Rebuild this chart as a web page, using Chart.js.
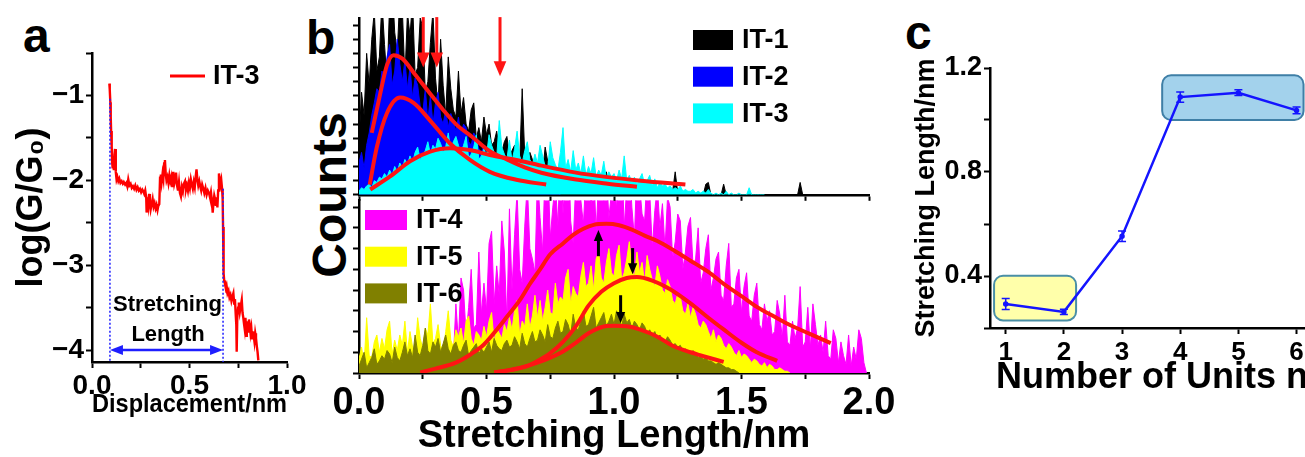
<!DOCTYPE html>
<html>
<head>
<meta charset="utf-8">
<title>Stretching length of IT-n junctions</title>
<script src="https://cdn.jsdelivr.net/npm/chart.js@4.4.1/dist/chart.umd.min.js"></script>
<style>
  html, body { margin: 0; padding: 0; background: #fff; }
  body { width: 1305px; height: 457px; overflow: hidden; position: relative; }
  canvas { position: absolute; }
  .tag { position: absolute; font-family: "Liberation Sans", Arial, sans-serif; font-weight: bold;
         color: #000; line-height: 1; white-space: nowrap; }
</style>
</head>
<body>
<div class="tag" style="left:23px;top:12px;font-size:48px">a</div>
<div class="tag" style="left:306px;top:14px;font-size:48px">b</div>
<div class="tag" style="left:905px;top:9px;font-size:48px">c</div>
<div class="tag" style="left:330px;top:195px;font-size:48px;transform:translate(-50%,-50%) rotate(-90deg)">Counts</div>

<canvas id="chartA" width="340" height="430" style="left:0;top:0"></canvas>
<canvas id="chartB2" width="600" height="267" style="left:300px;top:190px"></canvas>
<canvas id="chartB1" width="600" height="205" style="left:300px;top:0"></canvas>
<canvas id="chartC" width="440" height="457" style="left:890px;top:0"></canvas>

<script>
// ── Data ──────────────────────────────────────────────────────

// (a) single conductance trace of IT-3
const aDisp = [
  0.089,0.091,0.094,0.096,0.098,0.101,0.103,0.106,0.109,0.112,
  0.115,0.118,0.121,0.123,0.126,0.130,0.135,0.140,0.146,0.152,
  0.158,0.163,0.170,0.176,0.181,0.186,0.192,0.198,0.204,0.210,
  0.216,0.222,0.228,0.234,0.240,0.246,0.252,0.258,0.263,0.268,
  0.273,0.278,0.280,0.284,0.289,0.293,0.297,0.301,0.306,0.311,
  0.316,0.321,0.326,0.331,0.336,0.340,0.345,0.349,0.353,0.357,
  0.362,0.366,0.370,0.374,0.378,0.382,0.387,0.392,0.397,0.402,
  0.407,0.412,0.417,0.422,0.427,0.431,0.436,0.441,0.446,0.451,
  0.456,0.461,0.466,0.471,0.477,0.482,0.487,0.492,0.497,0.502,
  0.507,0.512,0.517,0.522,0.527,0.532,0.536,0.540,0.545,0.550,
  0.555,0.560,0.565,0.571,0.576,0.582,0.588,0.594,0.600,0.605,
  0.610,0.615,0.619,0.623,0.627,0.631,0.635,0.639,0.643,0.647,
  0.651,0.655,0.659,0.663,0.667,0.670,0.672,0.674,0.676,0.678,
  0.682,0.686,0.690,0.695,0.700,0.705,0.710,0.715,0.720,0.725,
  0.729,0.733,0.737,0.740,0.742,0.745,0.749,0.753,0.758,0.763,
  0.768,0.772,0.776,0.779,0.783,0.787,0.791,0.794,0.797,0.801,
  0.805,0.809,0.813,0.817,0.821,0.825,0.829,0.833,0.837,0.841,
  0.845,0.849,0.853
];
const aLogG = [
  -0.86,-0.93,-1.08,-1.25,-1.42,-1.60,-1.78,-1.86,-1.75,-1.88,
  -1.70,-1.63,-1.80,-1.90,-1.99,-1.96,-2.01,-1.98,-2.03,-2.01,
  -2.04,-2.02,-2.05,-2.03,-2.07,-1.99,-2.06,-2.04,-2.09,-2.07,
  -2.10,-2.06,-2.11,-2.08,-2.12,-2.10,-2.14,-2.11,-2.13,-2.16,
  -2.12,-2.20,-2.38,-2.22,-2.30,-2.16,-2.26,-2.34,-2.28,-2.22,
  -2.31,-2.27,-2.33,-2.29,-2.35,-2.30,-2.28,-1.97,-1.93,-2.02,
  -1.92,-1.98,-1.80,-1.76,-1.92,-2.00,-1.96,-2.03,-1.94,-2.01,
  -1.96,-2.08,-1.90,-2.04,-1.99,-1.91,-2.06,-2.12,-2.02,-2.15,
  -2.19,-2.08,-2.13,-2.04,-2.01,-2.11,-2.06,-2.12,-2.03,-2.09,
  -1.99,-2.05,-2.10,-2.02,-2.08,-1.95,-1.87,-1.98,-2.06,-2.01,
  -2.07,-2.12,-2.05,-2.10,-2.15,-2.09,-2.17,-2.12,-2.15,-2.20,
  -2.14,-2.24,-2.38,-2.26,-2.18,-2.22,-2.30,-2.20,-2.32,-2.12,
  -1.92,-1.98,-2.05,-2.00,-2.10,-2.22,-2.55,-2.85,-3.10,-3.18,
  -3.22,-3.27,-3.24,-3.33,-3.30,-3.38,-3.35,-3.42,-3.37,-3.33,
  -3.45,-3.40,-3.58,-3.70,-4.02,-3.62,-3.50,-3.44,-3.55,-3.48,
  -3.41,-3.56,-3.62,-3.68,-3.75,-3.62,-3.83,-3.72,-3.66,-3.78,
  -3.64,-3.70,-3.80,-3.74,-3.86,-3.78,-3.83,-3.90,-3.80,-3.86,
  -3.95,-4.02,-4.12
];

// (b) stretching-length histograms, 0.01 nm bins starting at 0 nm
const BIN = 0.01;
const it1Counts = [
  30,58,45,80,62,88,104,70,78,110,
  85,64,108,120,92,80,112,105,66,103,
  90,110,68,72,100,95,58,64,86,104,
  66,50,88,62,45,78,60,48,44,70,
  46,55,40,36,48,52,32,38,30,44,
  34,40,28,30,36,26,24,30,33,22,
  25,28,20,18,60,22,16,24,20,15,
  14,16,12,27,19,11,15,13,10,14,
  9,12,8,11,7,10,13,6,9,8,
  7,10,6,8,5,9,6,13,5,7,
  6,4,7,5,8,3,6,4,5,3,
  4,2,5,3,2,4,1,3,2,1,
  2,3,1,2,13,1,2,0,1,0,
  0,1,0,0,0,0,6,7,0,0,
  0,0,0,6,0,0,0,0,0,0,
  0,0,0,0,0,0,0,0,0,0,
  0,0,0,0,0,0,0,0,0,0,
  0,0,0,7,0,0,0,0,0,0,
  0,0
];
const it2Counts = [
  18,24,15,28,35,45,52,60,58,70,
  66,78,85,62,70,88,74,64,76,60,
  72,55,66,62,50,46,60,42,56,40,
  52,58,44,40,48,38,46,42,36,44,
  34,40,38,30,28,35,32,26,24,28,
  20,24,21,17,15,18,16,13,11,14,
  9,12,8,10,7,9,6,7,5,6,
  4,5,3,4,3,2,2,1,1,0
];
const it3Counts = [
  2,4,3,5,6,4,8,7,10,9,
  12,10,14,11,16,13,18,15,20,17,
  22,18,24,27,20,22,25,30,23,28,
  26,32,29,24,27,35,25,30,33,28,
  24,28,33,21,23,27,34,20,22,26,
  22,34,28,24,21,42,27,23,20,31,
  19,26,36,22,18,25,30,20,17,23,
  18,28,22,16,15,30,21,17,14,24,
  38,15,20,13,25,14,18,12,22,11,
  16,12,21,10,14,11,19,9,13,10,
  12,8,14,9,22,8,11,7,10,6,
  9,12,6,8,11,5,9,4,7,5,
  6,4,5,3,4,3,5,2,3,2,
  2,3,1,2,1,2,1,3,1,0,
  1,0,1,0,2,0,1,0,0,1,
  0,0,0,4,0,0,0,0,0,0
];
const it4Counts = [
  0,0,0,0,0,0,0,0,0,0,
  0,0,0,0,0,0,0,0,0,0,
  0,0,0,0,0,0,0,0,0,0,
  0,0,0,0,0,0,0,8,40,18,
  55,48,22,38,60,26,28,70,34,52,
  36,75,82,40,62,45,88,70,30,95,
  48,80,105,60,52,85,110,72,66,58,
  115,90,70,120,125,78,96,110,85,130,
  92,118,140,88,75,110,124,100,86,115,
  130,98,120,82,112,135,100,116,90,104,
  122,95,118,130,84,108,126,96,78,120,
  110,92,88,115,105,72,94,108,84,98,
  72,102,96,66,76,92,88,60,70,85,
  90,62,66,84,52,58,72,80,48,55,
  66,70,45,42,62,75,38,40,55,60,
  35,50,58,33,30,45,52,28,25,40,
  30,36,22,24,42,34,20,45,18,16,
  30,20,26,50,15,18,38,14,40,28,
  16,22,12,30,10,8,25,20,6,18,
  10,5,22,4,15,8,25,20,6,0
];
const it5Counts = [
  8,15,5,32,10,9,18,22,12,20,
  14,25,30,11,19,13,22,16,30,12,
  24,15,12,32,20,14,26,22,40,17,
  20,28,16,12,24,36,19,15,25,21,
  26,17,30,33,20,16,24,22,19,27,
  21,30,35,18,26,23,20,28,24,32,
  25,36,42,22,30,27,40,26,33,45,
  32,42,30,38,48,35,34,52,40,44,
  42,55,60,40,50,46,44,56,64,50,
  52,62,48,66,70,55,52,64,72,58,
  56,68,74,54,58,66,76,60,55,70,
  58,64,52,68,60,54,50,62,56,48,
  46,54,50,42,40,46,44,36,34,40,
  32,38,34,28,26,30,28,24,20,25,
  18,22,20,16,14,17,15,12,10,13,
  9,11,10,8,6,8,7,5,4,6,
  3,5,4,2,2,3,2,1,1,0
];
const it6Counts = [
  4,8,12,3,6,9,14,5,7,10,
  8,13,11,6,15,9,7,12,18,10,
  14,9,22,12,10,16,26,13,11,18,
  15,20,12,17,22,14,11,16,18,13,
  12,16,19,10,13,15,17,11,14,12,
  15,18,12,20,16,14,13,17,19,15,
  16,21,18,14,23,17,15,20,24,18,
  19,25,22,18,28,21,20,26,30,23,
  24,31,28,22,34,26,25,30,36,27,
  28,33,38,26,29,32,35,27,30,34,
  28,36,32,27,34,29,31,26,30,28,
  25,29,27,23,25,22,24,20,22,19,
  18,21,19,16,17,15,16,13,14,12,
  11,13,11,9,10,8,9,7,7,6,
  5,6,5,4,3,3,2,2,1,0
];

// fitted distributions
const fit1X = [0.05,0.08,0.11,0.135,0.17,0.22,0.28,0.33,0.38,0.45,0.51,0.58,0.65,0.715,0.845,0.975,1.09];
const fit1Y = [35,55,73.5,79,77,68,57,48,40,32,25,20,15.5,12.5,8.8,6.3,4.5];
const fit2X = [0.042,0.07,0.109,0.161,0.214,0.279,0.357,0.435,0.513,0.617,0.734];
const fit2Y = [5.8,27,46,55,52,42,29,19.7,13,8.5,5.8];
const fit3X = [0.044,0.122,0.2,0.279,0.357,0.435,0.513,0.617,0.715,0.845,0.975,1.105,1.28];
const fit3Y = [3,10.4,19,24.4,26.3,25.3,22.5,19.7,16.5,12.7,10,8,5.8];
const fit4X = [0.24,0.3,0.38,0.44,0.49,0.54,0.58,0.63,0.67,0.71,0.75,0.8,0.84,0.88,0.92,0.97,1.02,1.07,1.12,1.17,1.24,1.3,1.37,1.43,1.5,1.56,1.63,1.69,1.77,1.85];
const fit4Y = [0.3,2.5,6,11,16.5,25,32.5,42,51.5,60,68.7,75,80,83.5,85.7,86.3,85.5,83,79.5,76.4,70.5,65,58.5,51.6,44.5,38.3,32.5,27.8,22.5,17.3];
const fit5X = [0.53,0.6,0.65,0.7,0.75,0.8,0.85,0.9,0.95,1.0,1.05,1.09,1.15,1.22,1.3,1.37,1.43,1.5,1.56,1.64];
const fit5Y = [0.3,1.8,3.5,7,11.5,18,27,39,47,52,55,55.5,53.5,48.5,40.3,32,25.2,17.5,12,7];
const fit6X = [0.53,0.6,0.7,0.8,0.85,0.9,0.95,1.0,1.05,1.1,1.17,1.23,1.3,1.34,1.43];
const fit6Y = [0.3,2,6,12.5,17.5,23,26.5,27.3,27,25.2,21,15.8,12,10.2,6.4];

// (c) mean stretching length vs number of units
const cUnits  = [1, 2, 3, 4, 5, 6];
const cLength = [0.292, 0.262, 0.553, 1.088, 1.105, 1.037];
const cError  = [0.021, 0.010, 0.020, 0.020, 0.011, 0.013];

// ── Shared settings ───────────────────────────────────────────

const FONT = '"Liberation Sans", Arial, Helvetica, sans-serif';
Chart.defaults.font.family = FONT;
Chart.defaults.font.weight = 'bold';
Chart.defaults.color = '#000';
Chart.defaults.animation = false;
Chart.defaults.responsive = false;
Chart.defaults.events = [];
Chart.defaults.plugins.legend.display = false;
Chart.defaults.plugins.tooltip.enabled = false;

const hist = counts => counts.map((c, i) => ({ x: +(i * BIN).toFixed(2), y: c }));
const pts  = (xs, ys) => xs.map((x, i) => ({ x, y: ys[i] }));

const grid   = { drawOnChartArea: false, tickLength: 6, tickWidth: 2, tickColor: '#000' };
const border = { display: true, color: '#000', width: 2.5 };
const blank  = () => '';

function histSet(label, counts, color, order) {
  return { label, data: hist(counts), borderColor: color, backgroundColor: color, borderWidth: 1,
           fill: 'origin', pointRadius: 0, tension: 0, order, inLegend: true };
}
function fitSet(xs, ys) {
  return { data: pts(xs, ys), borderColor: '#ff1414', borderWidth: 4, pointRadius: 0, fill: false,
           cubicInterpolationMode: 'monotone', order: 0 };
}

function vArrow(ctx, x, y0, y1, color, lw, head) {
  const dir = Math.sign(y1 - y0);
  ctx.strokeStyle = color; ctx.fillStyle = color; ctx.lineWidth = lw;
  ctx.beginPath(); ctx.moveTo(x, y0); ctx.lineTo(x, y1 - dir * head * 0.8); ctx.stroke();
  ctx.beginPath(); ctx.moveTo(x, y1);
  ctx.lineTo(x - head * 0.42, y1 - dir * head); ctx.lineTo(x + head * 0.42, y1 - dir * head);
  ctx.closePath(); ctx.fill();
}

// legend boxes + arrows for the histogram panels
const histDecor = {
  id: 'histDecor',
  afterDatasetsDraw(chart, args, o) {
    const { ctx, scales: { x, y } } = chart;
    ctx.save();
    (o.arrows || []).forEach(a =>
      vArrow(ctx, x.getPixelForValue(a.x), y.getPixelForValue(a.from), y.getPixelForValue(a.to), a.color, 3, a.head));
    const items = chart.data.datasets.filter(d => d.inLegend).sort((p, q) => p.label.localeCompare(q.label));
    ctx.font = 'bold 27px ' + FONT; ctx.textBaseline = 'middle'; ctx.textAlign = 'left';
    items.forEach((d, i) => {
      const top = o.top + i * o.gap;
      ctx.fillStyle = d.backgroundColor; ctx.fillRect(o.left, top, o.w, o.h);
      ctx.fillStyle = '#000'; ctx.fillText(d.label, o.left + o.w + 9, top + o.h / 2 + 1);
    });
    ctx.restore();
  }
};

// ── (a) trace ─────────────────────────────────────────────────

const annoA = {
  id: 'annoA',
  afterDatasetsDraw(chart, args, o) {
    const { ctx, scales: { x, y } } = chart;
    const xl = x.getPixelForValue(o.from), xr = x.getPixelForValue(o.to);
    const ya = y.getPixelForValue(o.arrowAt);
    ctx.save();
    ctx.strokeStyle = o.color; ctx.fillStyle = o.color;
    ctx.lineWidth = 1.5; ctx.setLineDash([2, 2]);
    ctx.beginPath();
    ctx.moveTo(xl, y.getPixelForValue(o.fromTop)); ctx.lineTo(xl, y.bottom);
    ctx.moveTo(xr, y.getPixelForValue(o.toTop));   ctx.lineTo(xr, y.bottom);
    ctx.stroke();
    ctx.setLineDash([]); ctx.lineWidth = 2.5;
    ctx.beginPath(); ctx.moveTo(xl + 8, ya); ctx.lineTo(xr - 8, ya); ctx.stroke();
    ctx.beginPath(); ctx.moveTo(xl, ya); ctx.lineTo(xl + 13, ya - 5); ctx.lineTo(xl + 13, ya + 5); ctx.closePath(); ctx.fill();
    ctx.beginPath(); ctx.moveTo(xr, ya); ctx.lineTo(xr - 13, ya - 5); ctx.lineTo(xr - 13, ya + 5); ctx.closePath(); ctx.fill();

    ctx.fillStyle = '#000'; ctx.textAlign = 'center'; ctx.textBaseline = 'middle';
    ctx.font = 'bold 22px ' + FONT;
    o.text.forEach(t => ctx.fillText(t.s, x.getPixelForValue(t.x), y.getPixelForValue(t.y)));

    // legend
    const ds = chart.data.datasets[0];
    ctx.strokeStyle = ds.borderColor; ctx.lineWidth = 3;
    ctx.beginPath(); ctx.moveTo(170, 76); ctx.lineTo(205, 76); ctx.stroke();
    ctx.textAlign = 'left'; ctx.font = 'bold 27px ' + FONT;
    ctx.fillText(ds.label, 213, 77);
    ctx.restore();
  }
};

new Chart(document.getElementById('chartA'), {
  type: 'line',
  data: { datasets: [{ label: 'IT-3', data: pts(aDisp, aLogG), borderColor: '#ff0000', borderWidth: 2.4,
                       pointRadius: 0, tension: 0 }] },
  options: {
    layout: { padding: { top: 53, right: 53, left: 0, bottom: 0 } },
    plugins: {
      annoA: { color: '#1e1eff', from: 0.092, to: 0.672, fromTop: -1.04, toTop: -2.1, arrowAt: -4.0,
               text: [{ s: 'Stretching', x: 0.387, y: -3.465 }, { s: 'Length', x: 0.39, y: -3.82 }] }
    },
    scales: {
      x: {
        type: 'linear', min: 0, max: 1,
        afterFit: s => { s.height = 68; },
        grid, border,
        ticks: { stepSize: 0.25, autoSkip: false, maxRotation: 0, padding: 1, font: { size: 28 },
                 callback: v => (Math.round(v * 100) % 50 === 0 ? v.toFixed(1) : '') },
        title: { display: true, text: 'Displacement/nm', font: { size: 25, lineHeight: 1 }, padding: { bottom: 12 } }
      },
      y: {
        min: -4.14, max: -0.5,
        afterFit: s => { s.width = 92; },
        grid, border,
        ticks: { stepSize: 0.5, includeBounds: false, autoSkip: false, padding: 2, font: { size: 28 },
                 callback: v => (Number.isInteger(v) ? (v < 0 ? '\u2212' : '') + Math.abs(v) : '') },
        title: { display: true, text: 'log(G/G\u2080)', font: { size: 36, lineHeight: 1 }, padding: { top: 14 } }
      }
    }
  },
  plugins: [annoA]
});

// ── (b) histograms ────────────────────────────────────────────

new Chart(document.getElementById('chartB1'), {
  type: 'line',
  data: {
    datasets: [
      fitSet(fit1X, fit1Y), fitSet(fit2X, fit2Y), fitSet(fit3X, fit3Y),
      histSet('IT-3', it3Counts, '#00ffff', 1),
      histSet('IT-2', it2Counts, '#0000ff', 2),
      histSet('IT-1', it1Counts, '#000000', 3)
    ]
  },
  options: {
    layout: { padding: { top: 18, right: 31, left: 0, bottom: 0 } },
    plugins: {
      histDecor: {
        left: 393, top: 30, w: 40, h: 20, gap: 36.7,
        arrows: [
          { x: 0.252, from: 100.5, to: 72, color: '#ff1414', head: 15 },
          { x: 0.305, from: 100.5, to: 72, color: '#ff1414', head: 15 },
          { x: 0.553, from: 100.5, to: 67, color: '#ff1414', head: 15 }
        ]
      }
    },
    scales: {
      x: { type: 'linear', min: 0, max: 2, afterFit: s => { s.height = 9; }, grid, border,
           ticks: { stepSize: 0.25, autoSkip: false, maxRotation: 0, callback: blank } },
      y: { min: 0, max: 100, afterFit: s => { s.width = 59; }, grid, border,
           ticks: { stepSize: 8, includeBounds: false, autoSkip: false, callback: blank } }
    }
  },
  plugins: [histDecor]
});

new Chart(document.getElementById('chartB2'), {
  type: 'line',
  data: {
    datasets: [
      fitSet(fit4X, fit4Y), fitSet(fit5X, fit5Y), fitSet(fit6X, fit6Y),
      histSet('IT-6', it6Counts, '#808000', 1),
      histSet('IT-5', it5Counts, '#ffff00', 2),
      histSet('IT-4', it4Counts, '#ff00ff', 3)
    ]
  },
  options: {
    layout: { padding: { top: 6, right: 31, left: 0, bottom: 0 } },
    plugins: {
      histDecor: {
        left: 65, top: 20, w: 42, h: 20, gap: 36.7,
        arrows: [
          { x: 0.939, from: 67.6, to: 82.7, color: '#000', head: 11 },
          { x: 1.073, from: 72.3, to: 57.2, color: '#000', head: 11 },
          { x: 1.026, from: 45, to: 29, color: '#000', head: 11 }
        ]
      }
    },
    scales: {
      x: {
        type: 'linear', min: 0, max: 2,
        afterFit: s => { s.height = 84; },
        grid, border,
        ticks: { stepSize: 0.25, autoSkip: false, maxRotation: 0, padding: 2, font: { size: 38 },
                 callback: v => (Math.round(v * 100) % 50 === 0 ? v.toFixed(1) : '') },
        title: { display: true, text: 'Stretching Length/nm', font: { size: 38, lineHeight: 1 }, padding: { bottom: 1 } }
      },
      y: { min: 0, max: 100, afterFit: s => { s.width = 59; }, grid, border,
           ticks: { stepSize: 12, includeBounds: false, autoSkip: false, callback: blank } }
    }
  },
  plugins: [histDecor]
});

// ── (c) stretching length vs n ────────────────────────────────

const panelC = {
  id: 'panelC',
  beforeDatasetsDraw(chart, args, o) {
    const { ctx, scales: { x, y } } = chart;
    o.boxes.forEach(b => {
      const l = x.getPixelForValue(b.x0), r = x.getPixelForValue(b.x1);
      const t = y.getPixelForValue(b.y1), btm = y.getPixelForValue(b.y0);
      ctx.save();
      ctx.beginPath();
      if (ctx.roundRect) ctx.roundRect(l, t, r - l, btm - t, 9); else ctx.rect(l, t, r - l, btm - t);
      ctx.fillStyle = b.fill; ctx.fill();
      ctx.lineWidth = 2; ctx.strokeStyle = b.stroke; ctx.stroke();
      ctx.restore();
    });
  },
  afterDatasetsDraw(chart) {
    const { ctx, scales: { x, y } } = chart;
    ctx.save();
    ctx.strokeStyle = '#1414ff'; ctx.lineWidth = 1.5;
    cUnits.forEach((n, i) => {
      const px = x.getPixelForValue(n);
      const top = y.getPixelForValue(cLength[i] + cError[i]);
      const bot = y.getPixelForValue(cLength[i] - cError[i]);
      ctx.beginPath();
      ctx.moveTo(px, top); ctx.lineTo(px, bot);
      ctx.moveTo(px - 4, top); ctx.lineTo(px + 4, top);
      ctx.moveTo(px - 4, bot); ctx.lineTo(px + 4, bot);
      ctx.stroke();
    });
    ctx.restore();
  }
};

new Chart(document.getElementById('chartC'), {
  type: 'line',
  data: { datasets: [{ data: pts(cUnits, cLength), borderColor: '#1414ff', backgroundColor: '#1414ff',
                       borderWidth: 2.5, pointRadius: 1.5, tension: 0 }] },
  options: {
    layout: { padding: { top: 68, right: 16, left: 0, bottom: 0 } },
    plugins: {
      panelC: {
        boxes: [
          { x0: 0.80, x1: 2.21, y0: 0.229, y1: 0.401, fill: '#ffffaa', stroke: '#4a8fa6' },
          { x0: 3.69, x1: 6.12, y0: 1.0, y1: 1.172, fill: '#a3d2ec', stroke: '#3f7fa6' }
        ]
      }
    },
    scales: {
      x: {
        type: 'linear', min: 0.73, max: 6.3,
        afterFit: s => { s.height = 129; },
        grid, border,
        ticks: { stepSize: 1, includeBounds: false, autoSkip: false, maxRotation: 0, padding: 3, font: { size: 26 } },
        title: { display: true, text: 'Number of Units n', font: { size: 36, lineHeight: 1 }, padding: { bottom: 61 } }
      },
      y: {
        min: 0.2, max: 1.2,
        afterFit: s => { s.width = 100; },
        grid, border,
        ticks: { stepSize: 0.2, autoSkip: false, padding: 2, font: { size: 27 },
                 callback: v => (Math.round(v * 10) % 4 === 0 ? v.toFixed(1) : '') },
        title: { display: true, text: 'Stretching Length/nm', font: { size: 27, lineHeight: 1 }, padding: { top: 23 } }
      }
    }
  },
  plugins: [panelC]
});
</script>
</body>
</html>
